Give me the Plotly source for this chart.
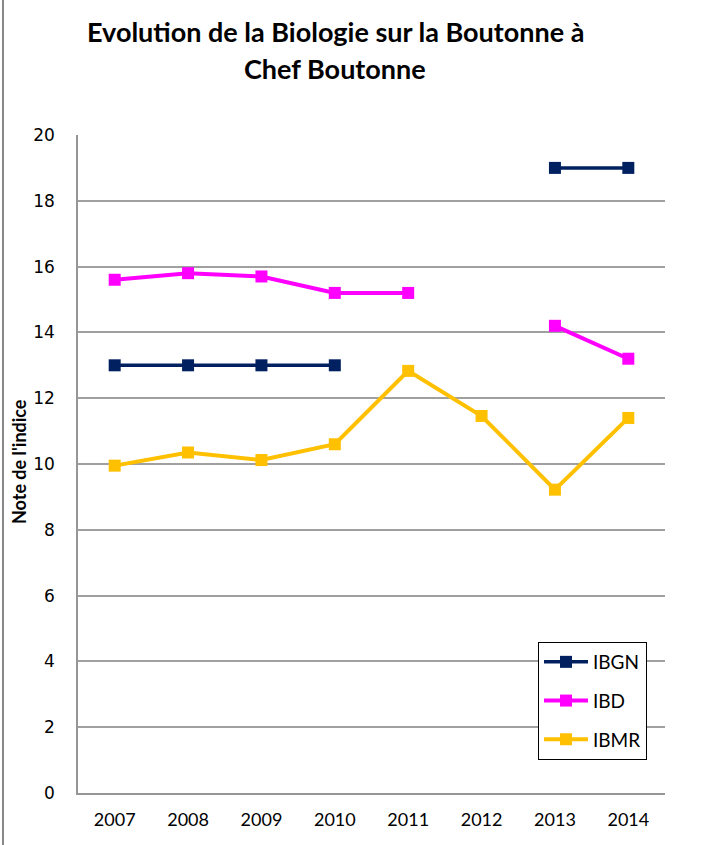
import plotly.graph_objects as go

years = ["2007", "2008", "2009", "2010", "2011", "2012", "2013", "2014"]
ibgn = [13, 13, 13, 13, None, None, 19, 19]
ibd = [15.6, 15.8, 15.7, 15.2, 15.2, None, 14.2, 13.2]
ibmr = [9.95, 10.35, 10.12, 10.6, 12.83, 11.46, 9.22, 11.4]

title_lines = ["Evolution de la Biologie sur la Boutonne à", "Chef Boutonne"]
y_title = "Note de l'indice"

W, H = 711, 845
ml, mr, mt, mb = 78, 46, 135, 52
pw = W - ml - mr
ph = H - mt - mb


def px_x(p):
    return (p - ml) / pw


def px_y(p):
    return (H - mb - p) / ph


fig = go.Figure()
series = [("IBGN", ibgn, "#002060", 3.5), ("IBD", ibd, "#FF00FF", 4), ("IBMR", ibmr, "#FFC000", 4)]
for name, vals, col, lw in series:
    fig.add_trace(go.Scatter(
        x=years, y=vals, name=name, mode="lines+markers",
        line=dict(color=col, width=lw),
        marker=dict(symbol="square", size=12, color=col),
        connectgaps=False, legendgroup=name,
    ))

annotations = [
    dict(text=title_lines[0], x=px_x(335), y=px_y(32), xref="paper", yref="paper",
         xanchor="center", yanchor="middle", showarrow=False,
         font=dict(family="Lato", size=27, color="black", weight="bold")),
    dict(text=title_lines[1], x=px_x(335), y=px_y(68), xref="paper", yref="paper",
         xanchor="center", yanchor="middle", showarrow=False,
         font=dict(family="Lato", size=27, color="black", weight="bold")),
    dict(text=y_title, x=px_x(19), y=px_y(462), xref="paper", yref="paper",
         xanchor="center", yanchor="middle", showarrow=False, textangle=-90,
         font=dict(family="Lato", size=18, color="black", weight="bold")),
]

fig.update_layout(
    width=W, height=H,
    margin=dict(l=ml, r=mr, t=mt, b=mb, autoexpand=False),
    paper_bgcolor="white", plot_bgcolor="white",
    showlegend=True,
    legend=dict(
        x=px_x(538), y=px_y(642), xanchor="left", yanchor="top",
        bordercolor="black", borderwidth=1, bgcolor="white",
        font=dict(family="Lato", size=19, color="black"),
        tracegroupgap=11, traceorder="grouped", itemwidth=44,
    ),
    xaxis=dict(
        type="category", showgrid=False, showline=True, linecolor="#969696", linewidth=1.5,
        ticks="", ticklabelstandoff=10, automargin=False,
        tickfont=dict(family="Lato", size=18, color="black"),
        range=[-0.5, 7.5], fixedrange=True,
    ),
    yaxis=dict(
        range=[0, 20], dtick=2, showgrid=True, gridcolor="#a0a0a0", gridwidth=1.5,
        showline=True, linecolor="#969696", linewidth=1.5, zeroline=False,
        ticks="", ticklabelstandoff=18, automargin=False, fixedrange=True,
        tickfont=dict(family="DejaVu Sans", size=17, color="black"),
    ),
    annotations=annotations,
    shapes=[dict(type="line", xref="paper", yref="paper",
                 x0=px_x(3), x1=px_x(3), y0=px_y(H), y1=px_y(0),
                 line=dict(color="#888888", width=2))],
)

fig.write_html("out.html", config={"displayModeBar": False},
               post_script="document.body.style.margin='0';")
